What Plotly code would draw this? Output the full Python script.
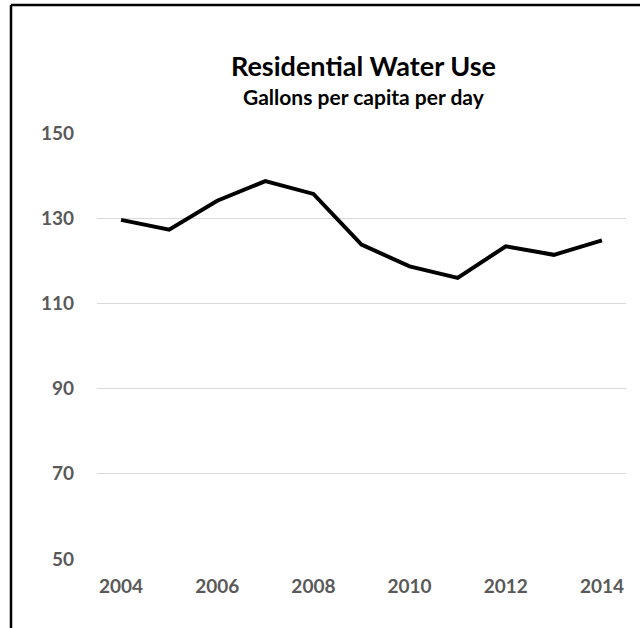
import plotly.graph_objects as go

years = [2004, 2005, 2006, 2007, 2008, 2009, 2010, 2011, 2012, 2013, 2014]
gallons = [129.6, 127.3, 134.1, 138.7, 135.7, 123.8, 118.7, 116.0, 123.4, 121.4, 124.8]
y_ticks = [50, 70, 90, 110, 130, 150]
x_ticks = [2004, 2006, 2008, 2010, 2012, 2014]
title_text = "<b>Residential Water Use</b>"
subtitle_text = "<b>Gallons per capita per day</b>"

W, H = 640, 628
L, R, T, B = 97, 14, 133, 69
pw, ph = W - L - R, H - T - B

def px(x):
    return (x - L) / pw

def py(y):
    return (H - B - y) / ph

FONT = "Lato"
fig = go.Figure()
fig.add_trace(go.Scatter(
    x=years, y=gallons, mode="lines",
    line=dict(color="#000000", width=4), hoverinfo="x+y", showlegend=False,
))

fig.update_layout(
    width=W, height=H,
    margin=dict(l=L, r=R, t=T, b=B, pad=0),
    paper_bgcolor="white", plot_bgcolor="white",
    font=dict(family=FONT, color="#595959"),
    xaxis=dict(
        range=[2003.5, 2014.5], tickvals=x_ticks, ticktext=[str(v) for v in x_ticks],
        showgrid=False, zeroline=False, showline=False, ticks="",
        tickfont=dict(size=19, color="#595959", family=FONT, weight="bold"),
        ticklabelstandoff=14, fixedrange=True,
    ),
    yaxis=dict(
        range=[50, 150], tickvals=y_ticks, ticktext=[str(v) for v in y_ticks],
        showgrid=True, gridcolor="#D9D9D9", gridwidth=1, zeroline=False,
        showline=False, ticks="",
        tickfont=dict(size=19, color="#595959", family=FONT, weight="bold"),
        ticklabelstandoff=22, fixedrange=True,
    ),
    annotations=[
        dict(text=title_text, x=px(363), y=py(84), xref="paper", yref="paper",
             xanchor="center", yanchor="bottom", showarrow=False,
             font=dict(size=27, color="#000000", family=FONT)),
        dict(text=subtitle_text, x=px(364), y=py(111), xref="paper", yref="paper",
             xanchor="center", yanchor="bottom", showarrow=False,
             font=dict(size=21, color="#000000", family=FONT)),
    ],
    shapes=[
        dict(type="line", xref="paper", yref="paper", x0=px(11), x1=px(640),
             y0=py(5), y1=py(5), line=dict(color="#000000", width=2.5)),
        dict(type="line", xref="paper", yref="paper", x0=px(11), x1=px(11),
             y0=py(5), y1=py(628), line=dict(color="#000000", width=2.5)),
    ],
)

fig.write_html(
    "out.html",
    config={"displayModeBar": False},
    post_script=(
        "var st=document.createElement('style');"
        "st.textContent='html,body{margin:0;padding:0;overflow:hidden;height:628px;width:640px;scrollbar-width:none;}"
        "::-webkit-scrollbar{display:none;width:0;height:0;}';"
        "document.head.appendChild(st);"
    ),
)
